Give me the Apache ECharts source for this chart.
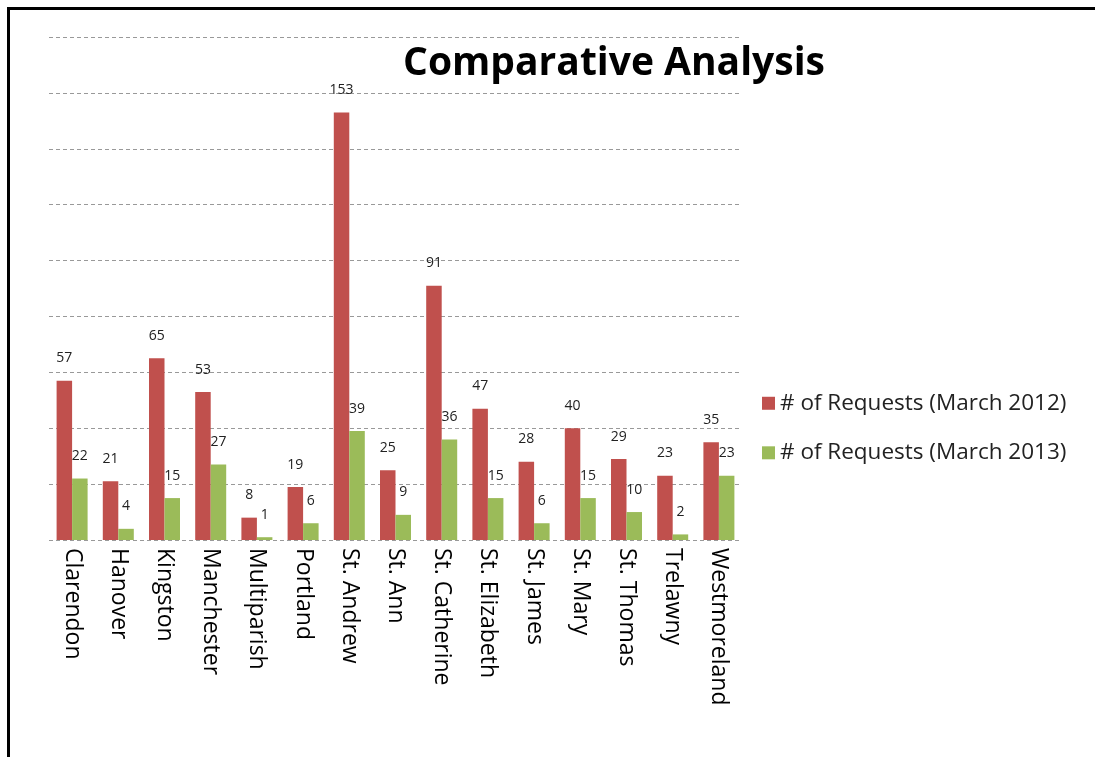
<html>
<head>
    <title>Comparative Analysis</title>
    <style>
        * { margin: 0; padding: 0; }
        body { background: #fff; }
        #chart-container { position: absolute; left: 0; top: 0; width: 1095px; height: 757px; }
        #frame {
            position: absolute; left: 7px; top: 7px; width: 1200px; height: 900px;
            border-left: 3px solid #000; border-top: 3px solid #000;
            box-shadow: -1px -1px 0 #999 inset;
            pointer-events: none;
        }
    </style>
</head>
<body>
<div id="chart-container"></div>
<div id="frame"></div>
<script src="https://cdn.jsdelivr.net/npm/echarts@6/dist/echarts.min.js"></script>
<script>
    // data
    const parishes = ['Clarendon', 'Hanover', 'Kingston', 'Manchester', 'Multiparish', 'Portland',
        'St. Andrew', 'St. Ann', 'St. Catherine', 'St. Elizabeth', 'St. James', 'St. Mary',
        'St. Thomas', 'Trelawny', 'Westmoreland'];
    const requests2012 = [57, 21, 65, 53, 8, 19, 153, 25, 91, 47, 28, 40, 29, 23, 35];
    const requests2013 = [22, 4, 15, 27, 1, 6, 39, 9, 36, 15, 6, 15, 10, 2, 23];
    const seriesNames = ['# of Requests (March 2012)', '# of Requests (March 2013)'];

    var dom = document.getElementById('chart-container');
    var myChart = echarts.init(dom, null, { renderer: 'canvas' });

    const font = 'Open Sans';
    const valueLabel = {
        show: true,
        position: 'top',
        distance: 11,
        fontFamily: font,
        fontSize: 14,
        color: '#222'
    };

    var option = {
        animation: false,
        title: {
            text: 'Comparative Analysis',
            left: 609,
            top: 23,
            textAlign: 'center',
            textStyle: { fontFamily: font, fontWeight: 'bold', fontSize: 39, color: '#000' }
        },
        legend: {
            orient: 'vertical',
            left: 757,
            top: 380,
            itemWidth: 13,
            itemHeight: 13,
            itemGap: 13,
            icon: 'rect',
            textStyle: { fontFamily: font, fontSize: 22.5, color: '#222' },
            data: seriesNames
        },
        grid: { left: 49, top: 37, width: 693, height: 503, containLabel: false },
        xAxis: {
            type: 'category',
            data: parishes,
            axisLine: { show: false },
            axisTick: { show: false },
            axisLabel: {
                rotate: -90,
                margin: 8,
                fontFamily: font,
                fontSize: 23,
                color: '#000',
                interval: 0
            }
        },
        yAxis: {
            type: 'value',
            min: 0,
            max: 180,
            interval: 20,
            axisLabel: { show: false },
            axisLine: { show: false },
            axisTick: { show: false },
            splitLine: { lineStyle: { type: [4, 3], color: '#999', width: 1 } }
        },
        series: [
            {
                name: seriesNames[0],
                type: 'bar',
                data: requests2012,
                barWidth: 15.5,
                barGap: '0%',
                itemStyle: { color: '#C0504D' },
                label: valueLabel
            },
            {
                name: seriesNames[1],
                type: 'bar',
                data: requests2013,
                barWidth: 15.5,
                barGap: '0%',
                itemStyle: { color: '#9BBB59' },
                label: valueLabel
            }
        ]
    };

    myChart.setOption(option);
    window.addEventListener('resize', myChart.resize);
</script>
</body>
</html>
